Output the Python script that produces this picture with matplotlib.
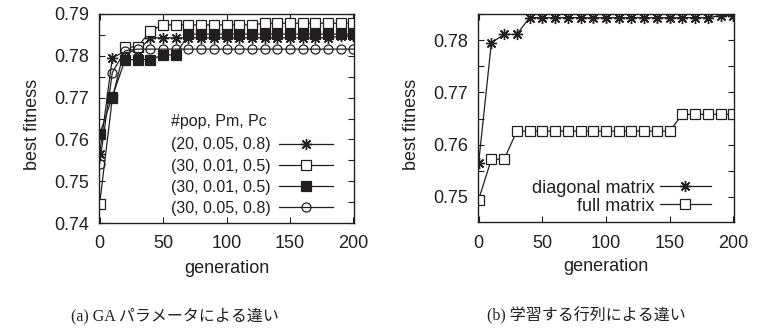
import matplotlib
matplotlib.use("Agg")
import matplotlib.pyplot as plt
from matplotlib.ticker import MultipleLocator, FormatStrFormatter

plt.rcParams['font.family'] = ['Liberation Sans', 'DejaVu Sans']

# ---------------- data ----------------
generations = [0, 10, 20, 30, 40, 50, 60, 70, 80, 90, 100,
               110, 120, 130, 140, 150, 160, 170, 180, 190, 200]

# (a) GA parameters
ga_labels = ["(20, 0.05, 0.8)", "(30, 0.01, 0.5)", "(30, 0.01, 0.5)", "(30, 0.05, 0.8)"]
ga_title = "#pop, Pm, Pc"
ga_s1 = [0.7565, 0.7795, 0.7811, 0.7811, 0.7843, 0.7843, 0.7843, 0.7843, 0.7843, 0.7843, 0.7843,
         0.7843, 0.7843, 0.7843, 0.7843, 0.7843, 0.7843, 0.7843, 0.7843, 0.7847, 0.7847]
ga_s2 = [0.7445, 0.7698, 0.7821, 0.7821, 0.7860, 0.7874, 0.7874, 0.7874, 0.7874, 0.7874, 0.7874,
         0.7874, 0.7874, 0.7878, 0.7878, 0.7878, 0.7878, 0.7878, 0.7878, 0.7878, 0.7878]
ga_s3 = [0.7612, 0.7702, 0.7790, 0.7791, 0.7791, 0.7802, 0.7802, 0.7852, 0.7852, 0.7852, 0.7852,
         0.7852, 0.7852, 0.7852, 0.7852, 0.7852, 0.7852, 0.7852, 0.7852, 0.7852, 0.7852]
ga_s4 = [0.7542, 0.7760, 0.7812, 0.7816, 0.7816, 0.7816, 0.7816, 0.7816, 0.7816, 0.7816, 0.7816,
         0.7816, 0.7816, 0.7816, 0.7816, 0.7816, 0.7816, 0.7816, 0.7816, 0.7816, 0.7816]

# (b) matrix type
mat_labels = ["diagonal matrix", "full matrix"]
mat_diag = [0.7565, 0.7795, 0.7811, 0.7811, 0.7843, 0.7843, 0.7843, 0.7843, 0.7843, 0.7843, 0.7843,
            0.7843, 0.7843, 0.7843, 0.7843, 0.7843, 0.7843, 0.7843, 0.7843, 0.7847, 0.7847]
mat_full = [0.7495, 0.7572, 0.7572, 0.7626, 0.7626, 0.7626, 0.7626, 0.7626, 0.7626, 0.7626, 0.7626,
            0.7626, 0.7626, 0.7626, 0.7626, 0.7626, 0.7658, 0.7658, 0.7658, 0.7658, 0.7658]

captions = ["(a) GA パラメータによる違い", "(b) 学習する行列による違い"]

# ---------------- style ----------------
INK = "#231f20"
lw = 0.9
star = (8, 2, 0)

fig = plt.figure(figsize=(7.6, 3.29), dpi=100)
axA = fig.add_axes([99 / 760, 1 - 223 / 329, 255 / 760, 209 / 329])
axB = fig.add_axes([478 / 760, 1 - 222 / 329, 256 / 760, 208 / 329])


def style_axes(ax, ylim):
    ax.set_xlim(-0.5, 200.5)
    ax.set_ylim(*ylim)
    ax.xaxis.set_major_locator(MultipleLocator(50))
    ax.yaxis.set_major_locator(MultipleLocator(0.01))
    ax.yaxis.set_minor_locator(MultipleLocator(0.005))
    ax.yaxis.set_major_formatter(FormatStrFormatter('%.2f'))
    ax.tick_params(which='both', direction='in', top=True, right=True,
                   length=4.5, width=0.8, color=INK, labelsize=13, labelcolor=INK)
    ax.tick_params(axis='x', pad=9)
    ax.tick_params(axis='y', pad=7)
    for s in ax.spines.values():
        s.set_linewidth(1.0)
        s.set_color(INK)
    ax.set_xlabel("generation", fontsize=13, color=INK)
    ax.set_ylabel("best fitness", fontsize=13, color=INK)
    ax.xaxis.set_label_coords(0.5, -0.175)
    ax.yaxis.set_label_coords(-0.228, 0.47)


# (a)
axA.plot(generations, ga_s1, color=INK, lw=lw, marker=star, ms=8, mew=1.0, label=ga_labels[0])
axA.plot(generations, ga_s2, color=INK, lw=lw, marker='s', ms=6.5, mfc='white', mew=0.9, label=ga_labels[1])
axA.plot(generations, ga_s3, color=INK, lw=lw, marker='s', ms=7.5, mfc=INK, mew=0.9, label=ga_labels[2])
axA.plot(generations, ga_s4, color=INK, lw=lw, marker='o', ms=6.5, mfc='none', mew=0.9, label=ga_labels[3])
style_axes(axA, (0.74, 0.79))
legA = axA.legend(loc='lower right', bbox_to_anchor=((333 - 99) / 255, 0.035),
                  frameon=False, markerfirst=False, title=ga_title, alignment='left',
                  fontsize=11.5, title_fontsize=11.5, handlelength=3.4, handletextpad=0.5,
                  labelspacing=0.38, borderpad=0, borderaxespad=0)
legA._legend_box.sep = 6
for t in legA.get_texts():
    t.set_color(INK)
legA.get_title().set_color(INK)

# (b)
axB.plot(generations, mat_diag, color=INK, lw=lw, marker=star, ms=8, mew=1.0, label=mat_labels[0])
axB.plot(generations, mat_full, color=INK, lw=lw, marker='s', ms=7, mfc='white', mew=0.9, label=mat_labels[1])
style_axes(axB, (0.7452, 0.785))
legB = axB.legend(loc='lower right', bbox_to_anchor=((711 - 478) / 256, 0.035),
                  frameon=False, markerfirst=False, fontsize=13,
                  handlelength=2.85, handletextpad=0.3, labelspacing=0.05,
                  borderpad=0, borderaxespad=0)
for t in legB.get_texts():
    t.set_color(INK)

# captions
cap_font = ['Liberation Serif', 'Noto Sans CJK JP']
fig.text(175 / 760, 1 - 316 / 329, captions[0], ha='center', va='center',
         fontsize=11.5, family=cap_font, color=INK)
fig.text(586 / 760, 1 - 316 / 329, captions[1], ha='center', va='center',
         fontsize=11.5, family=cap_font, color=INK)

fig.savefig("out.png", dpi=100)
